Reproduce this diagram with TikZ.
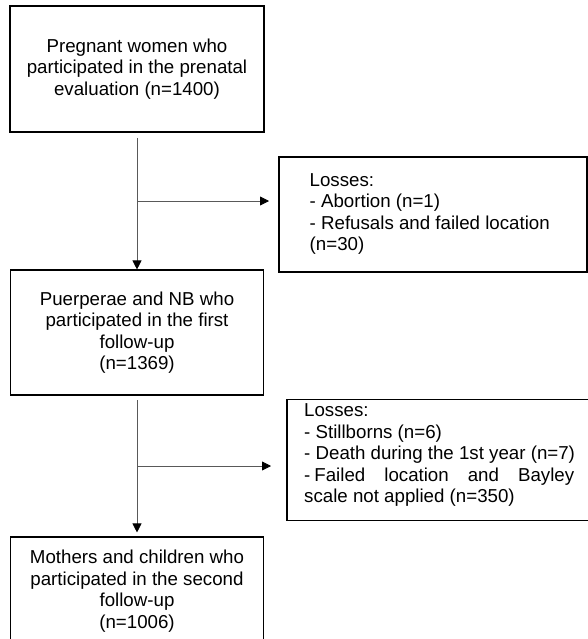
\documentclass[tikz,border=0pt]{standalone}
\usepackage{fontspec}
\setmainfont{Liberation Sans}
\usetikzlibrary{arrows.meta}
\begin{document}
\begin{tikzpicture}[x=1pt, y=-1pt, font=\fontsize{18.7pt}{21.5pt}\selectfont]
\useasboundingbox (0,0) rectangle (588,639);
\begin{scope}[every node/.style = {rectangle, draw, line width=1.1pt, inner sep=0pt, align=center}]
\node[minimum width=254pt, minimum height=126pt] (prenatal) at (137, 69) {Pregnant women who\\participated in the prenatal\\evaluation (n=1400)};
\node[minimum width=253pt, minimum height=125pt] (first) at (137, 332.5) {Puerperae and NB who\\participated in the first\\follow-up\\(n=1369)};
\node[minimum width=253pt, minimum height=108pt] (second) at (137, 591) {Mothers and children who\\participated in the second\\follow-up\\(n=1006)};
\node[minimum width=308pt, minimum height=115pt] (loss1) at (433, 214.5) {};
\node[minimum width=310pt, minimum height=121pt] (loss2) at (442, 460) {};
\end{scope}
\begin{scope}[every node/.style = {inner sep=0pt, align=left, anchor=west}]
\node (losstext1) at (309.5, 214) {Losses:\\- Abortion (n=1)\\- Refusals and failed location\\(n=30)};
\node (losstext2) at (304, 455.5) {Losses:\\- Stillborns (n=6)\\- Death during the 1st year (n=7)\\\makebox[270pt][s]{-\hspace{4pt}Failed location and Bayley}\\scale not applied (n=350)};
\end{scope}
\coordinate (top1) at (137, 138);
\coordinate (branch1) at (137, 201);
\coordinate (tip1) at (269, 201);
\coordinate (top2) at (137, 400);
\coordinate (branch2) at (137, 466);
\coordinate (tip2) at (271, 466);
\begin{scope}[every edge/.style = {draw, line width=0.8pt, black!65, -{Triangle[length=9pt, width=9pt, color=black]}}]
\path (top1) edge (first);
\path (branch1) edge (tip1);
\path (top2) edge[shorten >=4pt] (second);
\path (branch2) edge (tip2);
\end{scope}
\end{tikzpicture}
\end{document}
